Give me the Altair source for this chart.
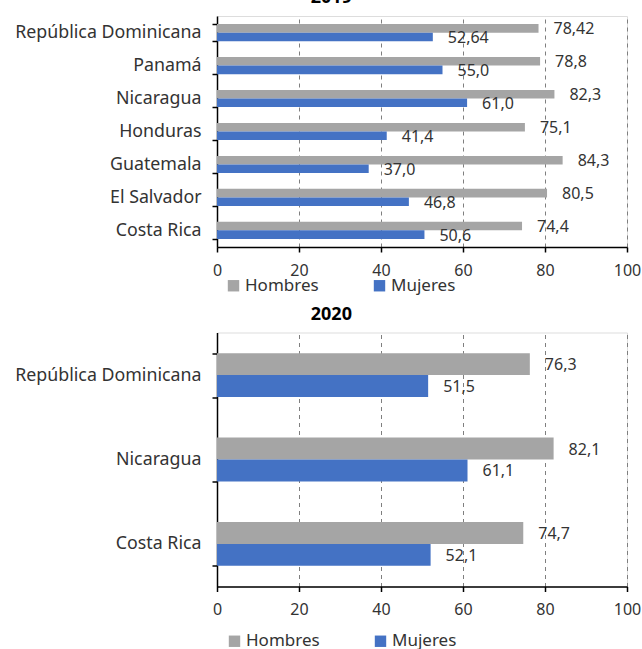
import altair as alt
import pandas as pd

# ---- data ----
countries_2019 = ["República Dominicana", "Panamá", "Nicaragua", "Honduras",
                  "Guatemala", "El Salvador", "Costa Rica"]
hombres_2019 = [78.42, 78.8, 82.3, 75.1, 84.3, 80.5, 74.4]
mujeres_2019 = [52.64, 55.0, 61.0, 41.4, 37.0, 46.8, 50.6]

countries_2020 = ["República Dominicana", "Nicaragua", "Costa Rica"]
hombres_2020 = [76.3, 82.1, 74.7]
mujeres_2020 = [51.5, 61.1, 52.1]

series = ["Hombres", "Mujeres"]
colors = ["#A5A5A5", "#4472C4"]
x_ticks = [0, 20, 40, 60, 80, 100]

FONT = "Noto Sans"
TXT = "#333333"


def make_df(countries, h, m):
    rows = []
    for c, hv, mv in zip(countries, h, m):
        rows.append({"pais": c, "sexo": "Hombres", "valor": hv,
                     "etiqueta": str(hv).replace(".", ",")})
        rows.append({"pais": c, "sexo": "Mujeres", "valor": mv,
                     "etiqueta": str(mv).replace(".", ",")})
    return pd.DataFrame(rows)


def panel(df, countries, title, height, legend_x, legend_y):
    x = alt.X("valor:Q", scale=alt.Scale(domain=[0, 100], nice=False),
              axis=alt.Axis(values=x_ticks, title=None, grid=True,
                            gridDash=[4, 4], gridColor="#7F7F7F", gridWidth=1,
                            labelFontSize=16, labelColor=TXT, labelPadding=10,
                            labelFlush=False,
                            tickSize=5, tickColor="black", tickWidth=1.5,
                            domainColor="black", domainWidth=1.5,
                            labelFont=FONT))
    y = alt.Y("pais:N", sort=countries, title=None,
              scale=alt.Scale(paddingInner=0.48, paddingOuter=0.245),
              axis=alt.Axis(tickBand="extent", grid=False, labelFontSize=17.8,
                            labelColor=TXT, labelPadding=11, tickSize=5,
                            tickColor="black", tickWidth=1.5,
                            domainColor="black", domainWidth=1.5,
                            minExtent=211, maxExtent=211, labelLimit=300,
                            labelFont=FONT))
    yoff = alt.YOffset("sexo:N", sort=series,
                       scale=alt.Scale(paddingInner=0, paddingOuter=0))
    color = alt.Color("sexo:N", sort=series,
                      scale=alt.Scale(domain=series, range=colors),
                      legend=alt.Legend(title=None, orient="none",
                                        legendX=legend_x, legendY=legend_y,
                                        direction="horizontal", columns=2,
                                        symbolType="square", symbolSize=130,
                                        symbolStrokeWidth=0, labelFontSize=17,
                                        labelColor=TXT, labelOffset=3,
                                        columnPadding=52, padding=0,
                                        labelFont=FONT))
    bars = alt.Chart(df).mark_bar().encode(x=x, y=y, yOffset=yoff, color=color)
    text = alt.Chart(df).mark_text(align="left", baseline="middle", dx=15, dy=1,
                                   fontSize=16, color=TXT, font=FONT).encode(
        x=x, y=y, yOffset=yoff, text="etiqueta:N")
    return alt.layer(bars, text).properties(
        width=410, height=height,
        title=alt.TitleParams(title, fontSize=18, fontWeight="bold",
                              anchor="middle", frame="bounds", offset=-18,
                              dx=8, baseline="bottom", color="black",
                              font=FONT))


df19 = make_df(countries_2019, hombres_2019, mujeres_2019)
df20 = make_df(countries_2020, hombres_2020, mujeres_2020)

top = panel(df19, countries_2019, "2019", 231, 8, 261)
bottom = panel(df20, countries_2020, "2020", 254, 9, 300)

chart = alt.vconcat(top, bottom, spacing=9.5).resolve_legend(
    color="independent"
).resolve_scale(
    yOffset="independent", y="independent"
).properties(
    padding={"left": 5, "top": -12, "right": 0, "bottom": 0}
).configure_view(stroke=None).configure(font=FONT)

chart.save("out.html", embed_options={"renderer": "svg", "actions": False})
